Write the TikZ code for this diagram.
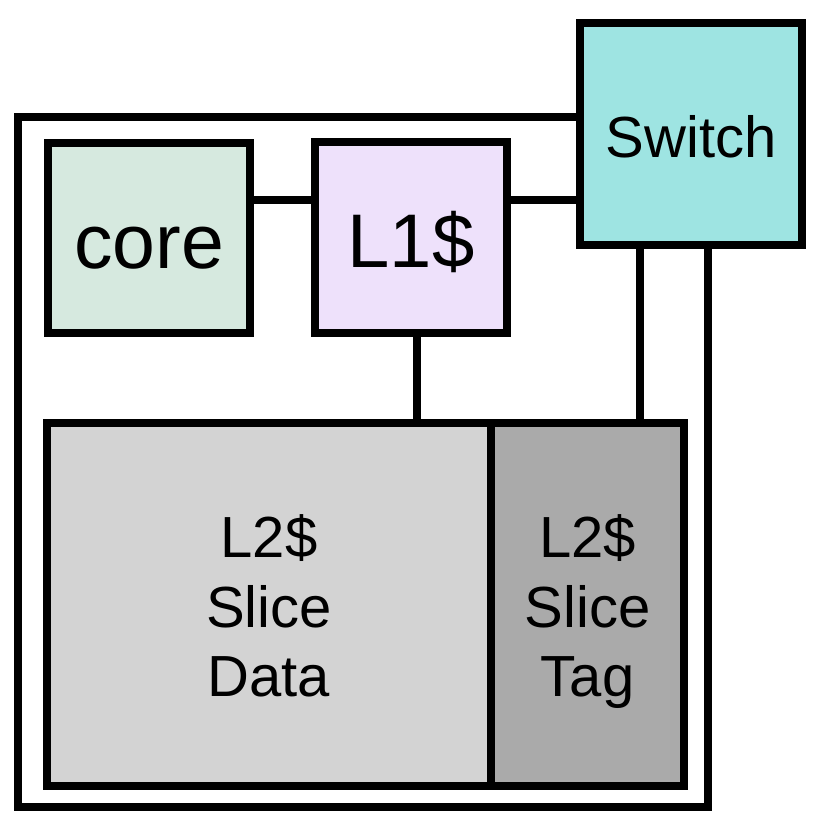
\documentclass[tikz,border=0pt]{standalone}
\usepackage{fontspec}
\setmainfont{Liberation Sans}
\definecolor{corefill}{HTML}{D6E9DF}
\definecolor{lonefill}{HTML}{EEE1FB}
\definecolor{swfill}{HTML}{9EE4E2}
\definecolor{datafill}{HTML}{D3D3D3}
\definecolor{tagfill}{HTML}{AAAAAA}
\tikzset{
  blk/.style={draw=black, line width=8.5pt, rectangle, inner sep=0pt, outer sep=0pt, align=center},
  wire/.style={draw=black, line width=8.5pt},
  midtxt/.style={font=\fontsize{58}{69.5}\selectfont},
}
\begin{document}
\begin{tikzpicture}[x=1pt, y=-1pt]
\useasboundingbox (0,0) rectangle (832,833);
% blocks
\node[blk, fill=corefill, minimum width=202pt, minimum height=190pt, font=\fontsize{77}{92}\selectfont, text height=61.6pt, text depth=0pt] (core) at (149,238) {core};
\node[blk, fill=lonefill, minimum width=192pt, minimum height=191pt, font=\fontsize{76}{91}\selectfont, text height=60.8pt, text depth=0pt] (l1) at (411,237.5) {L1\$};
\node[blk, fill=swfill, minimum width=222pt, minimum height=222pt, midtxt, text height=46.4pt, text depth=0pt] (sw) at (691,134) {Switch};
\node[blk, fill=datafill, minimum width=444pt, minimum height=363pt] (data) at (269,604.5) {};
\node[blk, fill=tagfill, minimum width=193pt, minimum height=363pt] (tag) at (587.5,604.5) {};
\node[midtxt, align=center, anchor=base] (datatxt) at (269,696.5) {L2\$\\Slice\\Data};
\node[midtxt, align=center, anchor=base] (tagtxt) at (587.5,696.5) {L2\$\\Slice\\Tag};
% helper coordinates
\coordinate (row) at (0,200);
\coordinate (oTL) at (18,117);
\coordinate (oBL) at (18,807);
\coordinate (oBR) at (708,807);
\coordinate (tapA) at (417,0);
\coordinate (tapB) at (640,0);
% outer frame
\draw[wire] (sw.west |- oTL) -- (oTL) -- (oBL) -- (oBR) -- (oBR |- sw.south);
% connectors
\draw[wire] (core.east |- row) -- (l1.west |- row);
\draw[wire] (l1.east |- row) -- (sw.west |- row);
\draw[wire] (l1.south -| tapA) -- (data.north -| tapA);
\draw[wire] (sw.south -| tapB) -- (tag.north -| tapB);
\end{tikzpicture}
\end{document}
